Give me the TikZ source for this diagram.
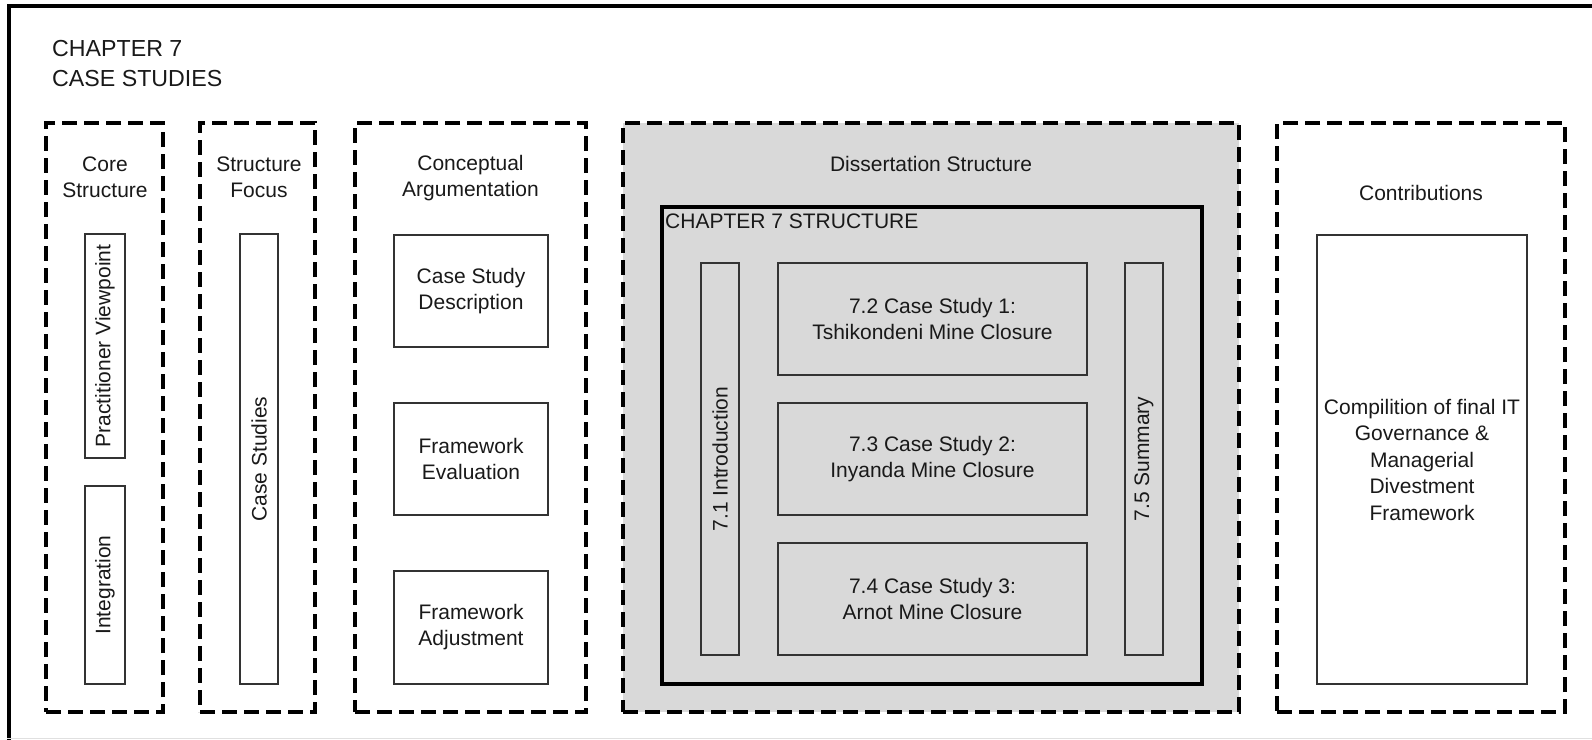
\documentclass[tikz,border=0pt]{standalone}
\usepackage{fontspec}
\setmainfont{Liberation Sans}
\usepackage{graphicx}

% type sizes used in the chart
\newcommand\lblfont{\fontsize{21}{26}\selectfont}
\newcommand\ttlfont{\fontsize{23.2}{30}\selectfont}

% \panel{name}{style}{x1}{y1}{x2}{y2}{text}: a box given by its corners
\newcommand\panel[7]{%
  \node[#2, minimum width={(#5-#3)*1pt}, minimum height={(#6-#4)*1pt}]
    (#1) at ({(#3+#5)/2},{(#4+#6)/2}) {#7};}

\begin{document}
\begin{tikzpicture}[x=1pt,y=-1pt,
    txt/.style={inner sep=0pt, align=center, text=black!90, font=\lblfont},
    dashbox/.style={draw=black, line width=3.5pt, dash pattern=on 15pt off 7pt, inner sep=0pt},
    framebox/.style={draw=black, line width=4pt, inner sep=0pt},
    chapbox/.style={draw=black, line width=3.5pt, inner sep=0pt},
    thinbox/.style={draw=black!80, line width=1.2pt, txt}]
  \useasboundingbox (0,0) rectangle (1592,739);

  % page frame (runs off the right and lower edges)
  \panel{frame}{framebox}{9}{5.5}{1640}{790}{}
  \draw[black!12, line width=1pt] (frame.west |- 0,738) coordinate (fl) -- (1592,738) coordinate (fr);

  % chapter heading
  \node[txt, align=left, font=\ttlfont, anchor=west] (title) at (52,63.5) {CHAPTER 7\\CASE STUDIES};

  % column frames
  \panel{core}{dashbox}{46}{123}{163}{712}{}
  \panel{focus}{dashbox}{200}{123}{315}{712}{}
  \panel{concept}{dashbox}{355}{123}{586}{712}{}
  \panel{diss}{dashbox, fill=black!15}{623}{123}{1239}{712}{}
  \panel{contrib}{dashbox}{1277}{123}{1565}{712}{}

  % column headings
  \node[txt] (coreL) at (105,177.5) {Core\\Structure};
  \node[txt] (focusL) at (259,177.5) {Structure\\Focus};
  \node[txt] (conceptL) at (470.5,178) {Conceptual\\Argumentation};
  \node[txt] (dissL) at (931,164) {Dissertation Structure};
  \node[txt] (contribL) at (1421,193) {Contributions};

  % core structure
  \panel{pv}{thinbox}{85}{234}{125}{458}{\rotatebox{90}{Practitioner Viewpoint}}
  \panel{integ}{thinbox}{85}{486}{125}{684}{\rotatebox{90}{Integration}}

  % structure focus
  \panel{cases}{thinbox}{240}{234}{278}{684}{\rotatebox{90}{Case Studies}}

  % conceptual argumentation
  \panel{csd}{thinbox}{394}{235}{548}{347}{Case Study\\Description}
  \panel{fe}{thinbox}{394}{403}{548}{515}{Framework\\Evaluation}
  \panel{fa}{thinbox}{394}{571}{548}{684}{Framework\\Adjustment}

  % chapter 7 structure
  \panel{chap}{chapbox}{662}{207}{1202}{684}{}
  \node[txt, anchor=west] (chapL) at (665,221) {CHAPTER 7 STRUCTURE};
  \panel{intro}{thinbox}{701}{263}{739}{655}{\rotatebox{90}{7.1 Introduction}}
  \panel{cs1}{thinbox}{778}{263}{1087}{375}{7.2 Case Study 1:\\Tshikondeni Mine Closure}
  \panel{cs2}{thinbox}{778}{403}{1087}{515}{7.3 Case Study 2:\\Inyanda Mine Closure}
  \panel{cs3}{thinbox}{778}{543}{1087}{655}{7.4 Case Study 3:\\Arnot Mine Closure}
  \panel{summ}{thinbox}{1125}{263}{1163}{655}{\rotatebox{90}{7.5 Summary}}

  % contributions
  \panel{comp}{thinbox, font=\fontsize{21}{26.5}\selectfont}{1317}{235}{1527}{684}%
    {Compilition of final IT\\Governance \&\\Managerial\\Divestment\\Framework}
\end{tikzpicture}
\end{document}
